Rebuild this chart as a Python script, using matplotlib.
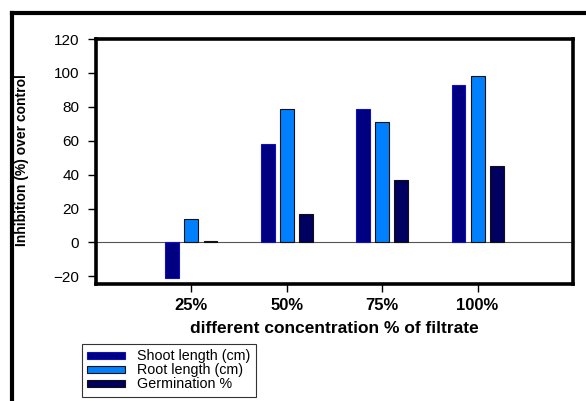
import matplotlib.pyplot as plt
from matplotlib.lines import Line2D
import numpy as np

plt.rcParams['font.family'] = ['Liberation Sans', 'DejaVu Sans']

categories = ["25%", "50%", "75%", "100%"]
shoot = [-21, 58, 79, 93]
root = [14, 79, 71, 98]
germ = [1, 17, 37, 45]

fig = plt.figure(figsize=(5.86, 4.01), dpi=100)
ax = fig.add_axes([0.1638, 0.2918, 0.8140, 0.6109])

x = np.arange(1, len(categories) + 1)
w = 0.145
ax.bar(x - 0.2, shoot, w, color="#000080", edgecolor="#1010c0", linewidth=0.8, label="Shoot length (cm)")
ax.bar(x, root, w, color="#0080ff", edgecolor="#111111", linewidth=0.8, label="Root length (cm)")
ax.bar(x + 0.2, germ, w, color="#000060", edgecolor="#111111", linewidth=0.8, label="Germination %")
ax.axhline(0, color="#555555", linewidth=0.8, zorder=0)

ax.set_xlim(0, 5)
ax.set_ylim(-24.5, 120)
ax.set_yticks(range(-20, 121, 20))
ax.set_xticks(x)
ax.set_xticklabels(categories, fontweight="bold", fontsize=12)
ax.tick_params(axis="y", labelsize=11, length=6, width=1, pad=6)
ax.tick_params(axis="x", length=6, width=1, pad=4)
for s in ax.spines.values():
    s.set_linewidth(2.6)
    s.set_color("black")

ax.set_xlabel("different concentration % of filtrate", fontweight="bold", fontsize=12.5, labelpad=6)
fig.text(0.038, 0.601, "Inhibition (%) over control", rotation=90, fontweight="bold",
         fontsize=10, ha="center", va="center")

leg = ax.legend(loc="upper left", fontsize=10.3, frameon=True, fancybox=False, edgecolor="black",
                handlelength=2.6, handleheight=0.45, labelspacing=0.0, borderpad=0.38,
                handletextpad=0.85, borderaxespad=0)
leg.set_bbox_to_anchor((0.140, 0.142), transform=fig.transFigure)
leg.get_frame().set_linewidth(0.8)

# outer chart frame
fig.add_artist(Line2D([0.021, 0.021], [0.0, 0.968], color="black", linewidth=3, transform=fig.transFigure))
fig.add_artist(Line2D([0.021, 1.0], [0.968, 0.968], color="black", linewidth=3, transform=fig.transFigure))

fig.savefig("out.png", dpi=100)
